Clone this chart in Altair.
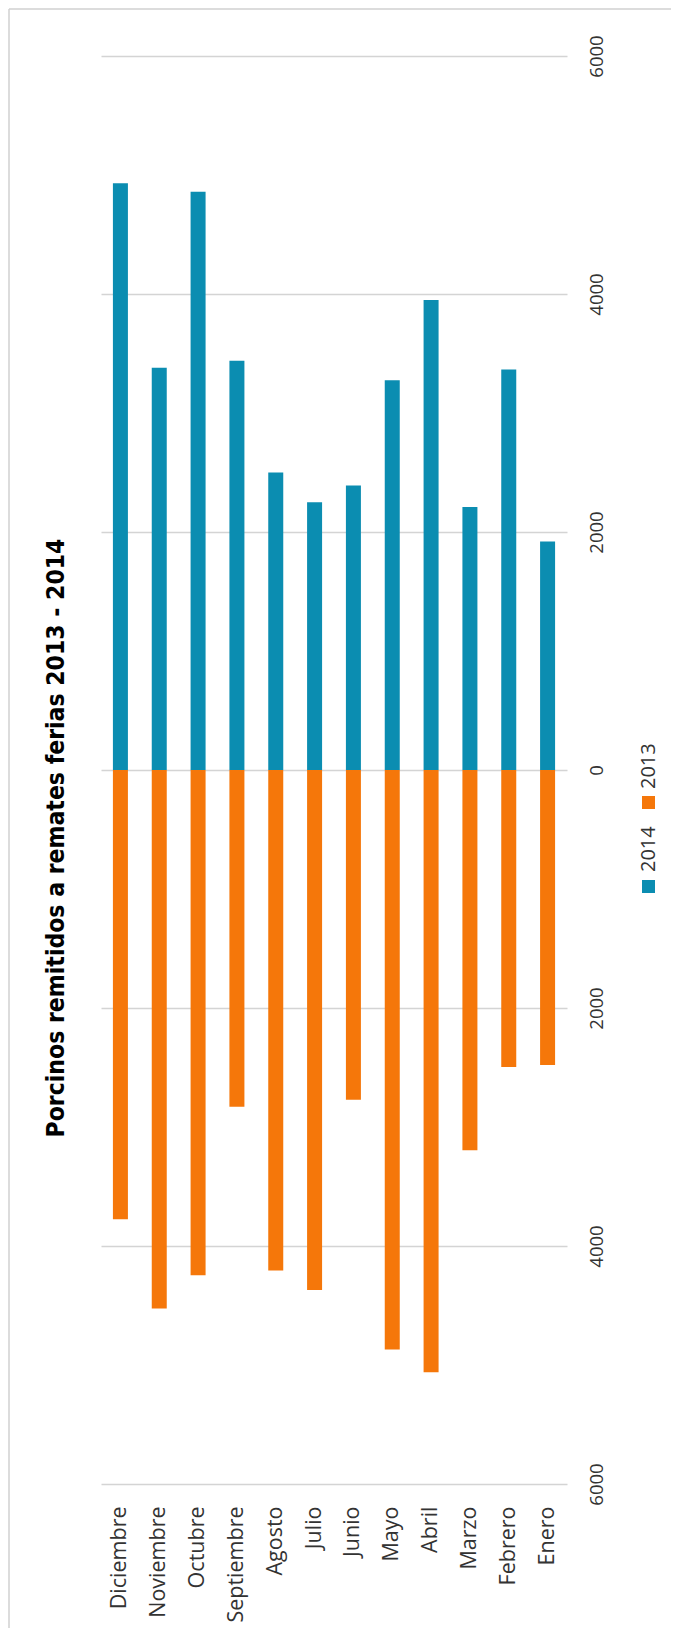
import altair as alt
import pandas as pd

months = ["Diciembre", "Noviembre", "Octubre", "Septiembre", "Agosto", "Julio",
          "Junio", "Mayo", "Abril", "Marzo", "Febrero", "Enero"]
v2014 = [4930, 3380, 4860, 3440, 2500, 2250, 2390, 3275, 3950, 2210, 3365, 1920]
v2013 = [3775, 4525, 4245, 2830, 4205, 4370, 2770, 4870, 5060, 3195, 2495, 2480]
series = ["2014", "2013"]
colors = ["#0B8DB1", "#F5770A"]
title_text = "Porcinos remitidos a remates ferias 2013 - 2014"
y_ticks = [-6000, -4000, -2000, 0, 2000, 4000, 6000]

rows = []
for m, a, b in zip(months, v2014, v2013):
    rows.append({"mes": m, "serie": series[0], "valor": a})
    rows.append({"mes": m, "serie": series[1], "valor": -b})
df = pd.DataFrame(rows)

W, H = 466, 1428
FONT = "Open Sans"

bars = alt.Chart(df).mark_bar(size=15).encode(
    x=alt.X("mes:N", sort=months,
            scale=alt.Scale(paddingInner=0, paddingOuter=0),
            axis=alt.Axis(orient="bottom", title=None, labelAngle=270,
                          labelAlign="right", labelBaseline="middle",
                          labelPadding=22, ticks=False, domain=False, grid=False,
                          labelFont=FONT, labelFontSize=21.5, labelColor="#333333")),
    y=alt.Y("valor:Q", scale=alt.Scale(domain=[-6000, 6000], nice=False),
            axis=alt.Axis(orient="right", title=None, values=y_ticks,
                          labelExpr="abs(datum.value)", ticks=False, domain=False,
                          grid=True, gridColor="#d4d4d4", gridWidth=1.5,
                          labelAngle=270, labelAlign="center", labelBaseline="top",
                          labelPadding=20, labelFont=FONT, labelFontSize=18.5,
                          labelColor="#333333")),
    color=alt.Color("serie:N", scale=alt.Scale(domain=series, range=colors), legend=None),
)

title = alt.Chart(pd.DataFrame({"t": [title_text]})).mark_text(
    angle=270, align="center", baseline="middle", fontSize=24.5, fontWeight="bold",
    font="Liberation Sans Narrow, DejaVu Sans Condensed, sans-serif", color="#000000"
).encode(text="t:N", x=alt.value(-44), y=alt.value(782))

legend_layers = []
sq_y = [830.5, 746.5]
tx_y = [816, 733]
for s, c, sy, ty in zip(series, colors, sq_y, tx_y):
    d = pd.DataFrame({"serie": [s]})
    legend_layers.append(alt.Chart(d).mark_square(size=169, opacity=1).encode(
        x=alt.value(547.5), y=alt.value(sy), color=alt.value(c)))
    legend_layers.append(alt.Chart(d).mark_text(
        angle=270, align="left", baseline="middle", fontSize=20, font=FONT,
        color="#333333").encode(text="serie:N", x=alt.value(548), y=alt.value(ty)))

border_d = pd.DataFrame({"k": [0]})
border_left = alt.Chart(border_d).mark_rule(color="#d0d0d0", strokeWidth=1.5).encode(
    x=alt.value(-92), y=alt.value(-47), y2=alt.value(1572))
border_top = alt.Chart(border_d).mark_rule(color="#d0d0d0", strokeWidth=1.5).encode(
    x=alt.value(-92), x2=alt.value(570), y=alt.value(-47))

chart = alt.layer(bars, title, *legend_layers, border_left, border_top).properties(
    width=W, height=H,
    autosize=alt.AutoSizeParams(type="none"),
    padding={"left": 93, "top": 48, "right": 104, "bottom": 144},
).configure_view(stroke=None)

chart.save("out.html", embed_options={"renderer": "svg", "actions": False})
